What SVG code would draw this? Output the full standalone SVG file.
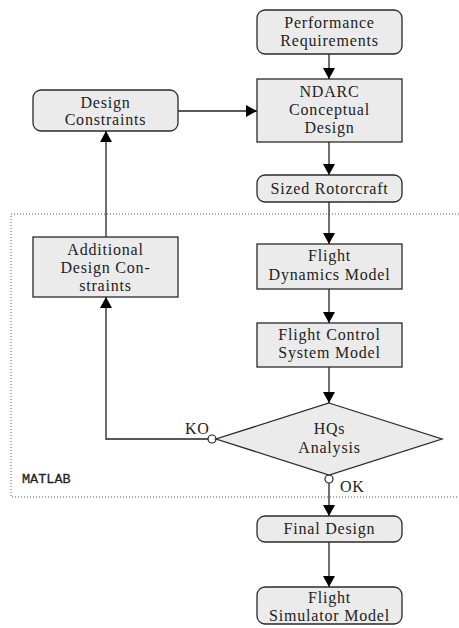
<svg xmlns="http://www.w3.org/2000/svg" width="459" height="628" viewBox="0 0 459 628">
<style>
.box{fill:#ebebeb;stroke:#2a2a2a;stroke-width:1.3}
.t{font-family:"Liberation Serif","DejaVu Serif",serif;font-size:16px;letter-spacing:0.8px;fill:#222;text-anchor:middle}
.lbl{font-family:"Liberation Serif","DejaVu Serif",serif;font-size:16px;letter-spacing:0.8px;fill:#222}
.mono{font-family:"Liberation Mono","DejaVu Sans Mono",monospace;font-size:13.5px;fill:#222;stroke:#222;stroke-width:0.3}
.c{fill:none;stroke:#222;stroke-width:1.3}
.frame{fill:none;stroke:#555;stroke-width:1;stroke-dasharray:1 2}
.dot{fill:#fff;stroke:#222;stroke-width:1.2}
</style>
<defs>
<marker id="ah" markerWidth="12" markerHeight="12" refX="11" refY="6" orient="auto" markerUnits="userSpaceOnUse">
<path d="M0,0 L11,6 L0,12 Z" fill="#000"/>
</marker>
</defs>
<rect class="frame" x="11" y="214" width="470" height="283"/>
<text class="mono" x="22" y="482.5">MATLAB</text>
<g id="connectors">
<line class="c" x1="329" y1="54" x2="329" y2="79" marker-end="url(#ah)"/>
<line class="c" x1="178" y1="111" x2="257" y2="111" marker-end="url(#ah)"/>
<line class="c" x1="329" y1="142" x2="329" y2="175" marker-end="url(#ah)"/>
<line class="c" x1="329" y1="202" x2="329" y2="244" marker-end="url(#ah)"/>
<line class="c" x1="329" y1="289" x2="329" y2="323" marker-end="url(#ah)"/>
<line class="c" x1="329" y1="367" x2="329" y2="403" marker-end="url(#ah)"/>
<polyline class="c" points="208,439 106,439 106,297" marker-end="url(#ah)"/>
<line class="c" x1="106" y1="237" x2="106" y2="131" marker-end="url(#ah)"/>
<line class="c" x1="329" y1="483" x2="329" y2="516" marker-end="url(#ah)"/>
<line class="c" x1="329" y1="542" x2="329" y2="587" marker-end="url(#ah)"/>
<circle class="dot" cx="212" cy="439" r="4"/>
<circle class="dot" cx="329" cy="479" r="4"/>
<text class="lbl" x="185" y="434">KO</text>
<text class="lbl" x="340" y="492">OK</text>
</g>
<g id="perf">
<rect class="box" x="257" y="10" width="145" height="44" rx="8"/>
<text class="t" x="329.5" y="27.5">Performance</text>
<text class="t" x="329.5" y="46">Requirements</text>
</g>
<g id="ndarc">
<rect class="box" x="257" y="79" width="145" height="63"/>
<text class="t" x="329.5" y="96.5">NDARC</text>
<text class="t" x="329.5" y="114.5">Conceptual</text>
<text class="t" x="329.5" y="132.5">Design</text>
</g>
<g id="sized">
<rect class="box" x="257" y="175" width="145" height="27" rx="8"/>
<text class="t" x="329.5" y="194">Sized Rotorcraft</text>
</g>
<g id="designc">
<rect class="box" x="33" y="90" width="145" height="41" rx="8"/>
<text class="t" x="105.5" y="107.5">Design</text>
<text class="t" x="105.5" y="125">Constraints</text>
</g>
<g id="additional">
<rect class="box" x="33" y="237" width="145" height="60"/>
<text class="t" x="105.5" y="254.5">Additional</text>
<text class="t" x="105.5" y="272.5">Design Con-</text>
<text class="t" x="105.5" y="290.5">straints</text>
</g>
<g id="fdm">
<rect class="box" x="257" y="244" width="145" height="45"/>
<text class="t" x="329.5" y="261">Flight</text>
<text class="t" x="329.5" y="279.5">Dynamics Model</text>
</g>
<g id="fcs">
<rect class="box" x="257" y="323" width="145" height="44"/>
<text class="t" x="329.5" y="340">Flight Control</text>
<text class="t" x="329.5" y="358">System Model</text>
</g>
<g id="hqs">
<polygon class="box" points="329,403 442,439 329,475 216,439"/>
<text class="t" x="329.5" y="434">HQs</text>
<text class="t" x="329.5" y="452.5">Analysis</text>
</g>
<g id="final">
<rect class="box" x="257" y="516" width="145" height="26" rx="8"/>
<text class="t" x="329.5" y="533.5">Final Design</text>
</g>
<g id="sim">
<rect class="box" x="257" y="587" width="145" height="37" rx="8"/>
<text class="t" x="329.5" y="603">Flight</text>
<text class="t" x="329.5" y="621">Simulator Model</text>
</g>
</svg>
